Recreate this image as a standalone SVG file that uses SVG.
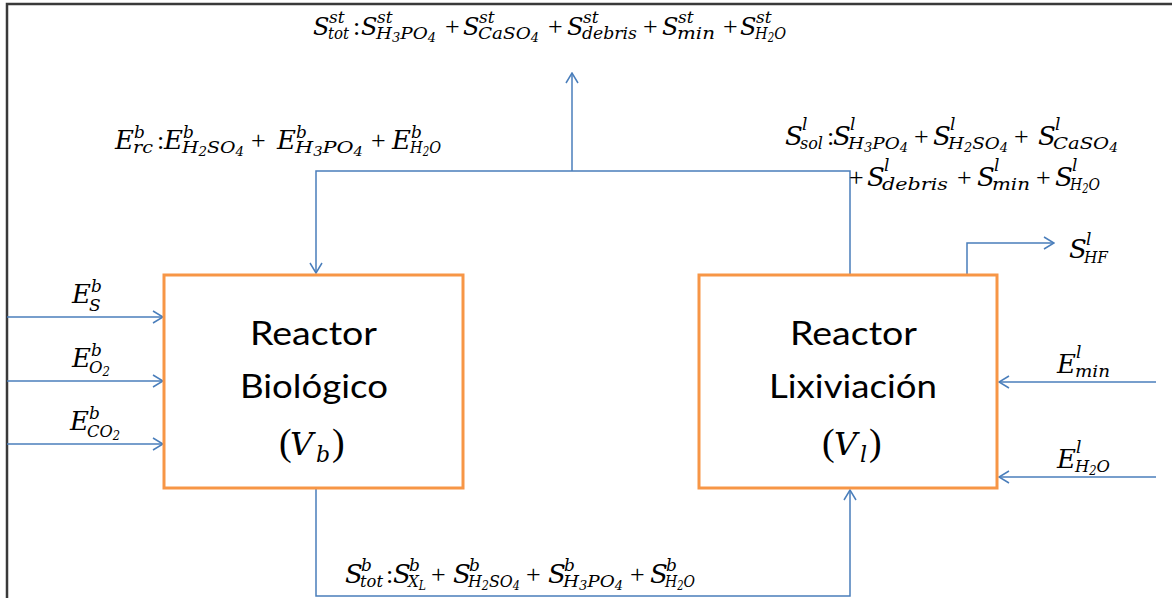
<svg xmlns="http://www.w3.org/2000/svg" width="1172" height="598" viewBox="0 0 1172 598">
  <style>
    .frame { stroke: #3a3a3a; stroke-width: 2.5; fill: none; }
    .box { fill: #ffffff; stroke: #f79646; stroke-width: 3; }
    .flow { fill: none; stroke: #4a7ebb; stroke-width: 1.5; }
    .title { font-family: Lato, "Open Sans", sans-serif; font-size: 33px; fill: #000; text-anchor: middle; }
    .mi { font-family: "DejaVu Serif", serif; font-style: italic; font-size: 26px; fill: #000; }
    .mi.sm { font-size: 24px; }
    .sp { font-size: 17px; }
    .ss { font-size: 12px; }
    .op { font-family: "Liberation Serif", serif; font-style: normal; font-size: 26px; }
    .par { font-family: "Liberation Serif", serif; font-style: normal; font-size: 38px; fill: #000; }
    .vi { font-family: "DejaVu Serif", serif; font-style: italic; font-size: 32px; fill: #000; }
    .vs { font-size: 22px; }
  </style>
  <defs>
    <marker id="arrow" viewBox="0 0 12 14" refX="11" refY="7" markerWidth="12" markerHeight="14" markerUnits="userSpaceOnUse" orient="auto">
      <path d="M1,1 L11,7 L1,13" fill="none" stroke="#4a7ebb" stroke-width="1.5"/>
    </marker>
  </defs>

  <rect width="1172" height="598" fill="#ffffff"/>
  <path class="frame" d="M7,598 V4 H1172"/>

  <!-- streams between and around the reactors -->
  <g id="connectors">
    <path class="flow" d="M7,317 H163" marker-end="url(#arrow)"/>
    <path class="flow" d="M7,381 H163" marker-end="url(#arrow)"/>
    <path class="flow" d="M7,444 H163" marker-end="url(#arrow)"/>
    <path class="flow" d="M850,275 V171 H316 V273" marker-end="url(#arrow)"/>
    <path class="flow" d="M572,171 V73" marker-end="url(#arrow)"/>
    <path class="flow" d="M316,488 V596 H850 V490" marker-end="url(#arrow)"/>
    <path class="flow" d="M967,275 V243 H1054" marker-end="url(#arrow)"/>
    <path class="flow" d="M1156,382 H999" marker-end="url(#arrow)"/>
    <path class="flow" d="M1156,477 H999" marker-end="url(#arrow)"/>
  </g>

  <g id="reactor-biologico">
    <rect class="box" x="164" y="275" width="299" height="213"/>
    <text class="title" x="313.5" y="345" textLength="127" lengthAdjust="spacingAndGlyphs">Reactor</text>
    <text class="title" x="314" y="398" textLength="148" lengthAdjust="spacingAndGlyphs">Biológico</text>
    <text class="par" x="279" y="455">(</text>
    <text class="vi"><tspan x="290" y="455">V</tspan><tspan class="vs" x="316" y="462">b</tspan></text>
    <text class="par" x="332" y="455">)</text>
  </g>

  <g id="reactor-lixiviacion">
    <rect class="box" x="699" y="275" width="298" height="213"/>
    <text class="title" x="853.5" y="345" textLength="127" lengthAdjust="spacingAndGlyphs">Reactor</text>
    <text class="title" x="853" y="398" textLength="168" lengthAdjust="spacingAndGlyphs">Lixiviación</text>
    <text class="par" x="822" y="455">(</text>
    <text class="vi"><tspan x="834" y="455">V</tspan><tspan class="vs" x="860" y="462">l</tspan></text>
    <text class="par" x="869" y="455">)</text>
  </g>

  <!-- stream labels -->
  <g id="labels">
    <!-- solids out -->
    <text class="mi sm">
      <tspan x="313" y="35">S</tspan><tspan class="sp" x="329" y="23">st</tspan><tspan class="sp" x="328" y="39" textLength="21" lengthAdjust="spacingAndGlyphs">tot</tspan>
      <tspan class="op" x="353" y="35">:</tspan>
      <tspan x="361" y="35">S</tspan><tspan class="sp" x="377" y="23">st</tspan><tspan class="sp" x="376" y="39" textLength="60" lengthAdjust="spacingAndGlyphs">H<tspan class="ss" dy="3">3</tspan><tspan dy="-3">PO</tspan><tspan class="ss" dy="3">4</tspan></tspan>
      <tspan class="op" x="445" y="35">+</tspan>
      <tspan x="463" y="35">S</tspan><tspan class="sp" x="479" y="23">st</tspan><tspan class="sp" x="478" y="39" textLength="61" lengthAdjust="spacingAndGlyphs">CaSO<tspan class="ss" dy="3">4</tspan></tspan>
      <tspan class="op" x="548" y="35">+</tspan>
      <tspan x="567" y="35">S</tspan><tspan class="sp" x="583" y="23">st</tspan><tspan class="sp" x="582" y="39" textLength="55" lengthAdjust="spacingAndGlyphs">debris</tspan>
      <tspan class="op" x="643" y="35">+</tspan>
      <tspan x="662" y="35">S</tspan><tspan class="sp" x="678" y="23">st</tspan><tspan class="sp" x="677" y="39" textLength="38" lengthAdjust="spacingAndGlyphs">min</tspan>
      <tspan class="op" x="723" y="35">+</tspan>
      <tspan x="740" y="35">S</tspan><tspan class="sp" x="756" y="23">st</tspan><tspan class="sp" x="755" y="39" textLength="31" lengthAdjust="spacingAndGlyphs">H<tspan class="ss" dy="3">2</tspan><tspan dy="-3">O</tspan></tspan>
    </text>

    <!-- recycle into biological reactor -->
    <text class="mi">
      <tspan x="115" y="149">E</tspan><tspan class="sp" x="134" y="138">b</tspan><tspan class="sp" x="133" y="153" textLength="20" lengthAdjust="spacingAndGlyphs">rc</tspan>
      <tspan class="op" x="157" y="149">:</tspan>
      <tspan x="164" y="149">E</tspan><tspan class="sp" x="183" y="138">b</tspan><tspan class="sp" x="182" y="153" textLength="62" lengthAdjust="spacingAndGlyphs">H<tspan class="ss" dy="3">2</tspan><tspan dy="-3">SO</tspan><tspan class="ss" dy="3">4</tspan></tspan>
      <tspan class="op" x="251" y="149">+</tspan>
      <tspan x="277" y="149">E</tspan><tspan class="sp" x="296" y="138">b</tspan><tspan class="sp" x="295" y="153" textLength="68" lengthAdjust="spacingAndGlyphs">H<tspan class="ss" dy="3">3</tspan><tspan dy="-3">PO</tspan><tspan class="ss" dy="3">4</tspan></tspan>
      <tspan class="op" x="371" y="149">+</tspan>
      <tspan x="392" y="149">E</tspan><tspan class="sp" x="411" y="138">b</tspan><tspan class="sp" x="410" y="153" textLength="31" lengthAdjust="spacingAndGlyphs">H<tspan class="ss" dy="3">2</tspan><tspan dy="-3">O</tspan></tspan>
    </text>

    <!-- leach liquor -->
    <text class="mi">
      <tspan x="785" y="145">S</tspan><tspan class="sp" x="802" y="130">l</tspan><tspan class="sp" x="800" y="149" textLength="23" lengthAdjust="spacingAndGlyphs">sol</tspan>
      <tspan class="op" x="827" y="145">:</tspan>
      <tspan x="833" y="145">S</tspan><tspan class="sp" x="850" y="130">l</tspan><tspan class="sp" x="848" y="149" textLength="60" lengthAdjust="spacingAndGlyphs">H<tspan class="ss" dy="3">3</tspan><tspan dy="-3">PO</tspan><tspan class="ss" dy="3">4</tspan></tspan>
      <tspan class="op" x="914" y="145">+</tspan>
      <tspan x="933" y="145">S</tspan><tspan class="sp" x="950" y="130">l</tspan><tspan class="sp" x="948" y="149" textLength="60" lengthAdjust="spacingAndGlyphs">H<tspan class="ss" dy="3">2</tspan><tspan dy="-3">SO</tspan><tspan class="ss" dy="3">4</tspan></tspan>
      <tspan class="op" x="1014" y="145">+</tspan>
      <tspan x="1038" y="145">S</tspan><tspan class="sp" x="1055" y="130">l</tspan><tspan class="sp" x="1053" y="149" textLength="65" lengthAdjust="spacingAndGlyphs">CaSO<tspan class="ss" dy="3">4</tspan></tspan>
      <tspan class="op" x="849" y="186">+</tspan>
      <tspan x="867" y="186">S</tspan><tspan class="sp" x="884" y="171">l</tspan><tspan class="sp" x="882" y="190" textLength="66" lengthAdjust="spacingAndGlyphs">debris</tspan>
      <tspan class="op" x="957" y="186">+</tspan>
      <tspan x="977" y="186">S</tspan><tspan class="sp" x="994" y="171">l</tspan><tspan class="sp" x="992" y="190" textLength="38" lengthAdjust="spacingAndGlyphs">min</tspan>
      <tspan class="op" x="1036" y="186">+</tspan>
      <tspan x="1055" y="186">S</tspan><tspan class="sp" x="1072" y="171">l</tspan><tspan class="sp" x="1070" y="190" textLength="30" lengthAdjust="spacingAndGlyphs">H<tspan class="ss" dy="3">2</tspan><tspan dy="-3">O</tspan></tspan>
    </text>

    <!-- biological reactor outlet -->
    <text class="mi">
      <tspan x="345" y="583">S</tspan><tspan class="sp" x="361" y="571">b</tspan><tspan class="sp" x="360" y="587" textLength="23" lengthAdjust="spacingAndGlyphs">tot</tspan>
      <tspan class="op" x="386" y="583">:</tspan>
      <tspan x="393" y="583">S</tspan><tspan class="sp" x="409" y="571">b</tspan><tspan class="sp" x="408" y="587" textLength="18" lengthAdjust="spacingAndGlyphs">X<tspan class="ss" dy="3">L</tspan></tspan>
      <tspan class="op" x="431" y="583">+</tspan>
      <tspan x="453" y="583">S</tspan><tspan class="sp" x="469" y="571">b</tspan><tspan class="sp" x="468" y="587" textLength="52" lengthAdjust="spacingAndGlyphs">H<tspan class="ss" dy="3">2</tspan><tspan dy="-3">SO</tspan><tspan class="ss" dy="3">4</tspan></tspan>
      <tspan class="op" x="526" y="583">+</tspan>
      <tspan x="548" y="583">S</tspan><tspan class="sp" x="564" y="571">b</tspan><tspan class="sp" x="563" y="587" textLength="60" lengthAdjust="spacingAndGlyphs">H<tspan class="ss" dy="3">3</tspan><tspan dy="-3">PO</tspan><tspan class="ss" dy="3">4</tspan></tspan>
      <tspan class="op" x="630" y="583">+</tspan>
      <tspan x="650" y="583">S</tspan><tspan class="sp" x="666" y="571">b</tspan><tspan class="sp" x="665" y="587" textLength="30" lengthAdjust="spacingAndGlyphs">H<tspan class="ss" dy="3">2</tspan><tspan dy="-3">O</tspan></tspan>
    </text>

    <!-- biological reactor feeds -->
    <text class="mi"><tspan x="72" y="303">E</tspan><tspan class="sp" x="91" y="292">b</tspan><tspan class="sp" x="89" y="311">S</tspan></text>
    <text class="mi"><tspan x="72" y="367">E</tspan><tspan class="sp" x="91" y="356">b</tspan><tspan class="sp" x="89" y="373" textLength="21" lengthAdjust="spacingAndGlyphs">O<tspan class="ss" dy="3">2</tspan></tspan></text>
    <text class="mi"><tspan x="70" y="430">E</tspan><tspan class="sp" x="89" y="419">b</tspan><tspan class="sp" x="87" y="437" textLength="33" lengthAdjust="spacingAndGlyphs">CO<tspan class="ss" dy="3">2</tspan></tspan></text>

    <!-- leaching reactor feeds and gas -->
    <text class="mi"><tspan x="1069" y="258">S</tspan><tspan class="sp" x="1086" y="245">l</tspan><tspan class="sp" x="1084" y="263" textLength="24" lengthAdjust="spacingAndGlyphs">HF</tspan></text>
    <text class="mi"><tspan x="1057" y="373">E</tspan><tspan class="sp" x="1076" y="358">l</tspan><tspan class="sp" x="1075" y="377" textLength="35" lengthAdjust="spacingAndGlyphs">min</tspan></text>
    <text class="mi"><tspan x="1057" y="468">E</tspan><tspan class="sp" x="1076" y="453">l</tspan><tspan class="sp" x="1075" y="472" textLength="35" lengthAdjust="spacingAndGlyphs">H<tspan class="ss" dy="3">2</tspan><tspan dy="-3">O</tspan></tspan></text>
  </g>
</svg>
